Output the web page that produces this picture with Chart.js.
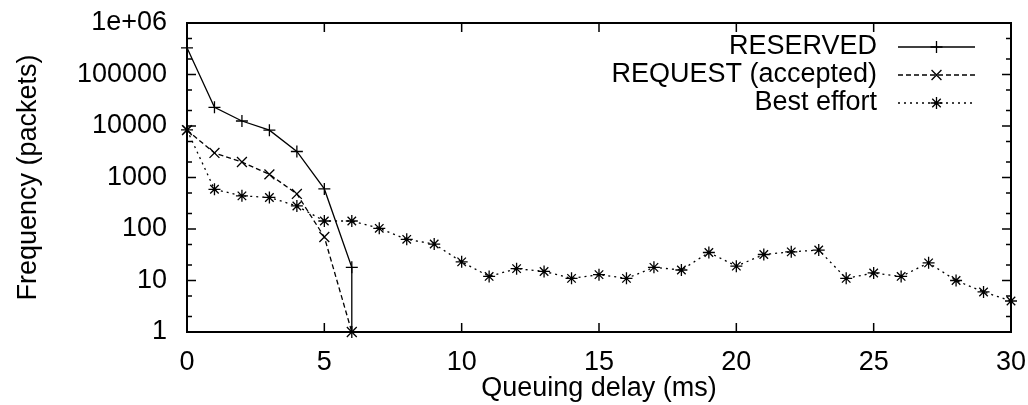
<!DOCTYPE html>
<html>
<head>
<meta charset="utf-8">
<script src="https://cdn.jsdelivr.net/npm/chart.js@4.4.1/dist/chart.umd.min.js"></script>
<style>
  html, body { margin: 0; padding: 0; background: #fff; }
  #wrap { width: 1028px; height: 405px; }
</style>
</head>
<body>
<div id="wrap"><canvas id="delay_chart"></canvas></div>
<script>
// queuing delay (ms) -> packet counts
const reservedDelay = [0, 1, 2, 3, 4, 5, 6, 6];
const reservedFreq = [330000, 23000, 12500, 8300, 3200, 600, 18, 1];
const requestDelay = [0, 1, 2, 3, 4, 5, 6];
const requestFreq = [8300, 3000, 2000, 1150, 480, 70, 1];
const bestDelay = [0, 1, 2, 3, 4, 5, 6, 7, 8, 9, 10, 11, 12, 13, 14, 15, 16, 17, 18, 19, 20, 21, 22, 23, 24, 25, 26, 27, 28, 29, 30];
const bestFreq = [8400, 590, 440, 410, 280, 143, 143, 103, 63, 51, 23, 12, 17, 15, 11, 13, 11, 18, 16, 35, 19, 32, 36, 39, 11, 14, 12, 22, 10, 6, 4];

const seriesLabels = ['RESERVED', 'REQUEST (accepted)', 'Best effort'];
const xTickValues = [0, 5, 10, 15, 20, 25, 30];
const yTickValues = [1, 10, 100, 1000, 10000, 100000, 1000000];
const yTickLabels = ['1', '10', '100', '1000', '10000', '100000', '1e+06'];

const FONT = 'Liberation Sans, Arial, Helvetica, sans-serif';
Chart.defaults.font.family = FONT;
Chart.defaults.color = '#000';

const toPoints = (xs, ys) => xs.map((x, i) => ({ x: x, y: ys[i] }));

// gnuplot style frame with inward ticks on all four sides
const frameTicks = {
  id: 'frameTicks',
  afterDatasetsDraw(chart) {
    const { ctx, chartArea: a, scales: { x, y } } = chart;
    ctx.save();
    ctx.strokeStyle = '#000';
    ctx.lineWidth = 1.5;
    ctx.beginPath();
    xTickValues.forEach(v => {
      const px = x.getPixelForValue(v);
      ctx.moveTo(px, a.bottom); ctx.lineTo(px, a.bottom - 9);
      ctx.moveTo(px, a.top); ctx.lineTo(px, a.top + 9);
    });
    yTickValues.forEach(v => {
      const py = y.getPixelForValue(v);
      ctx.moveTo(a.left, py); ctx.lineTo(a.left + 9, py);
      ctx.moveTo(a.right, py); ctx.lineTo(a.right - 9, py);
      if (v < y.max) {
        [2, 5].forEach(m => {
          const pm = y.getPixelForValue(v * m);
          ctx.moveTo(a.left, pm); ctx.lineTo(a.left + 5, pm);
          ctx.moveTo(a.right, pm); ctx.lineTo(a.right - 5, pm);
        });
      }
    });
    ctx.stroke();
    ctx.lineWidth = 2;
    ctx.strokeRect(a.left, a.top, a.right - a.left, a.bottom - a.top);
    ctx.restore();
  }
};

// key in the top right corner: text right aligned, then the line sample
const keyBox = {
  id: 'keyBox',
  afterDraw(chart) {
    const { ctx, chartArea: a } = chart;
    ctx.save();
    ctx.font = '27px ' + FONT;
    ctx.textAlign = 'right';
    ctx.textBaseline = 'middle';
    chart.data.datasets.forEach((ds, i) => {
      const yy = a.top + 24 + i * 28;
      const x1 = a.right - 113;
      const x2 = a.right - 36;
      ctx.fillStyle = '#000';
      ctx.fillText(ds.label, a.right - 134, yy);
      ctx.strokeStyle = ds.borderColor;
      ctx.lineWidth = ds.borderWidth;
      ctx.setLineDash(ds.borderDash || []);
      ctx.beginPath();
      ctx.moveTo(x1, yy);
      ctx.lineTo(x2, yy);
      ctx.stroke();
      ctx.setLineDash([]);
      ctx.lineWidth = ds.pointBorderWidth;
      Chart.helpers.drawPoint(ctx, {
        pointStyle: ds.pointStyle,
        radius: ds.pointRadius,
        rotation: 0,
        borderWidth: ds.pointBorderWidth
      }, (x1 + x2) / 2, yy);
    });
    ctx.restore();
  }
};

const delayChart = document.getElementById('delay_chart');

new Chart(delayChart, {
  type: 'line',
  data: {
    datasets: [{
      label: seriesLabels[0],
      data: toPoints(reservedDelay, reservedFreq),
      borderColor: '#000',
      borderWidth: 1.3,
      borderDash: [],
      pointStyle: 'cross',
      pointRadius: 6,
      pointBorderWidth: 1.3,
      pointBorderColor: '#000',
      // last point is only the drop to the axis, no marker
      radius: (c) => c.dataIndex === reservedFreq.length - 1 ? 0 : 6,
      clip: false
    }, {
      label: seriesLabels[1],
      data: toPoints(requestDelay, requestFreq),
      borderColor: '#000',
      borderWidth: 1.3,
      borderDash: [5, 3],
      pointStyle: 'crossRot',
      pointRadius: 7,
      pointBorderWidth: 1.3,
      pointBorderColor: '#000',
      clip: false
    }, {
      label: seriesLabels[2],
      data: toPoints(bestDelay, bestFreq),
      borderColor: '#000',
      borderWidth: 1.3,
      borderDash: [2, 4],
      pointStyle: 'star',
      pointRadius: 6,
      pointBorderWidth: 1.3,
      pointBorderColor: '#000',
      clip: false
    }]
  },
  options: {
    responsive: true,
    maintainAspectRatio: false,
    animation: false,
    layout: { padding: { top: 23, right: 17, left: 0, bottom: 0 } },
    elements: { line: { tension: 0 } },
    plugins: {
      legend: { display: false },
      tooltip: { enabled: false }
    },
    scales: {
      x: {
        type: 'linear',
        min: 0,
        max: 30,
        afterBuildTicks: (scale) => { scale.ticks = xTickValues.map(v => ({ value: v })); },
        afterFit: (scale) => {
          scale.height = 73;
          scale.paddingLeft = 0;
          scale.paddingRight = 0;
        },
        grid: { display: false, drawTicks: false },
        border: { display: false },
        ticks: { font: { size: 27 }, padding: 14, maxRotation: 0 },
        title: { display: true, text: 'Queuing delay (ms)', font: { size: 27 }, padding: 0 }
      },
      y: {
        type: 'logarithmic',
        min: 1,
        max: 1000000,
        afterBuildTicks: (scale) => { scale.ticks = yTickValues.map(v => ({ value: v })); },
        afterFit: (scale) => {
          scale.width = 187;
          scale.paddingTop = 0;
          scale.paddingBottom = 0;
        },
        grid: { display: false, drawTicks: false },
        border: { display: false },
        ticks: {
          font: { size: 27 },
          padding: 20,
          callback: (value) => yTickLabels[yTickValues.indexOf(value)]
        },
        title: { display: true, text: 'Frequency (packets)', font: { size: 27 }, padding: { top: 12 } }
      }
    }
  },
  plugins: [frameTicks, keyBox]
});
</script>
</body>
</html>
